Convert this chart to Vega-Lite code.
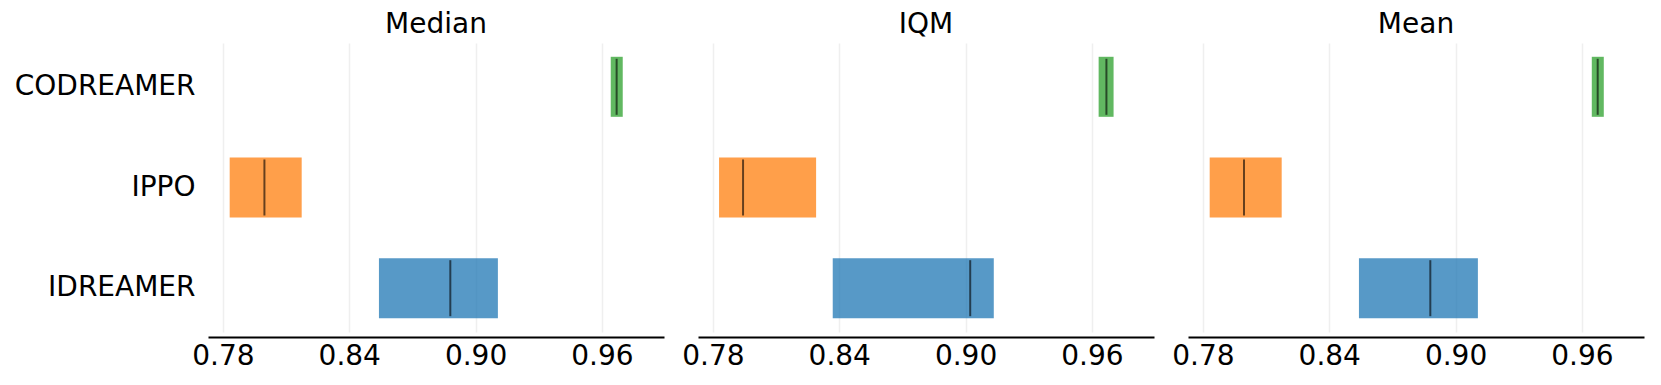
{
  "$schema": "https://vega.github.io/schema/vega-lite/v6.json",
  "background": "white",
  "padding": {"left": 14, "top": 11, "right": 5, "bottom": 5},
  "config": {"font": "DejaVu Sans", "view": {"stroke": null}},
  "data": {"values": [
    {"metric": "Median", "algo": "CODREAMER", "lo": 0.9642, "hi": 0.9699, "pt": 0.9670},
    {"metric": "Median", "algo": "IPPO", "lo": 0.7832, "hi": 0.8174, "pt": 0.7997},
    {"metric": "Median", "algo": "IDREAMER", "lo": 0.8541, "hi": 0.9106, "pt": 0.8880},
    {"metric": "IQM", "algo": "CODREAMER", "lo": 0.9632, "hi": 0.9703, "pt": 0.9669},
    {"metric": "IQM", "algo": "IPPO", "lo": 0.7829, "hi": 0.8290, "pt": 0.7943},
    {"metric": "IQM", "algo": "IDREAMER", "lo": 0.8369, "hi": 0.9134, "pt": 0.9022},
    {"metric": "Mean", "algo": "CODREAMER", "lo": 0.9647, "hi": 0.9704, "pt": 0.9675},
    {"metric": "Mean", "algo": "IPPO", "lo": 0.7832, "hi": 0.8174, "pt": 0.7995},
    {"metric": "Mean", "algo": "IDREAMER", "lo": 0.8541, "hi": 0.9106, "pt": 0.8880}
  ]},
  "facet": {"column": {"field": "metric", "type": "nominal", "sort": ["Median", "IQM", "Mean"],
    "header": {"title": null, "labelFontSize": 28, "labelColor": "black", "labelFont": "DejaVu Sans", "labelPadding": 4}}},
  "spacing": 34,
  "bounds": "flush",
  "spec": {
    "width": 456,
    "height": 289,
    "encoding": {
      "y": {"field": "algo", "type": "nominal", "sort": ["CODREAMER", "IPPO", "IDREAMER"],
        "scale": {"paddingInner": 0.404, "paddingOuter": 0.137},
        "axis": {"title": null, "domain": false, "ticks": false, "grid": false, "labelFontSize": 28, "labelPadding": 13, "labelLimit": 400, "labelColor": "black"}}
    },
    "layer": [
      {
        "mark": {"type": "bar", "opacity": 0.75},
        "encoding": {
          "x": {"field": "lo", "type": "quantitative",
            "scale": {"domain": [0.7729, 0.9895], "nice": false, "zero": false},
            "axis": {"title": null, "values": [0.78, 0.84, 0.90, 0.96], "format": ".2f", "grid": true, "gridColor": "#efefef", "gridWidth": 1.5, "ticks": false, "domainColor": "black", "domainWidth": 2, "offset": 5, "labelFontSize": 28, "labelColor": "black", "labelPadding": 5, "labelFlush": false, "labelOverlap": false}},
          "x2": {"field": "hi"},
          "color": {"field": "algo", "type": "nominal",
            "scale": {"domain": ["IDREAMER", "IPPO", "CODREAMER"], "range": ["#1f77b4", "#ff7f0e", "#2ca02c"]},
            "legend": null}
        }
      },
      {
        "mark": {"type": "tick", "color": "black", "opacity": 0.6, "thickness": 2, "size": 56},
        "encoding": {"x": {"field": "pt", "type": "quantitative"}}
      }
    ]
  }
}
